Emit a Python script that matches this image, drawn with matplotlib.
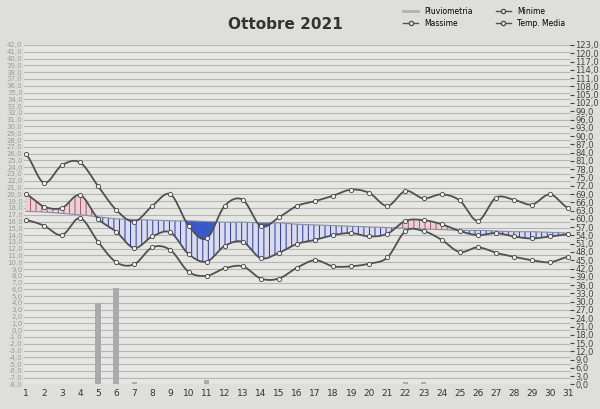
import numpy as np
import matplotlib
matplotlib.use("Agg")
import matplotlib.pyplot as plt
from matplotlib.lines import Line2D

days = list(range(1, 32))
t_max = [25.9,21.7,24.3,24.7,21.2,17.7,16.0,18.3,20.0,15.4,13.5,18.3,19.2,15.3,16.6,18.3,
         19.0,19.8,20.7,20.2,18.3,20.5,19.4,20.0,19.1,16.1,19.5,19.2,18.5,20.0,18.0]
t_med = [20.0,18.2,18.0,19.9,16.4,14.5,12.1,13.8,14.4,11.2,10.1,12.4,13.0,10.6,11.4,12.7,
         13.3,14.0,14.3,13.8,14.2,16.1,16.2,15.6,14.6,14.0,14.3,13.8,13.5,13.8,14.1]
t_min = [16.2,15.4,14.0,16.5,13.0,10.0,9.7,12.2,11.8,8.6,8.0,9.1,9.4,7.6,7.6,9.2,
         10.3,9.4,9.4,9.8,10.7,14.6,14.6,13.3,11.5,12.2,11.4,10.8,10.3,10.0,10.8]
t_norm = [17.5,17.4,17.2,17.0,16.7,16.4,16.3,16.2,16.1,16.1,16.0,15.9,15.9,15.8,15.8,15.6,
          15.5,15.4,15.3,15.2,15.1,15.0,14.9,14.8,14.7,14.7,14.6,14.5,14.5,14.4,14.3]
rain = [0,0,0,0,29.5,34.9,0.8,0,0,0,1.5,0,0,0,0,0,0,0,0,0,0,0.8,0.8,0,0,0,0,0,0,0,0]

def smooth(x, y, n=12):
    x = np.asarray(x, float); y = np.asarray(y, float)
    xs, ys = [], []
    p = np.concatenate([[y[0]], y, [y[-1]]])
    for i in range(len(x) - 1):
        t = np.linspace(0, 1, n, endpoint=False)
        p0, p1, p2, p3 = p[i], p[i+1], p[i+2], p[i+3]
        ys.append(0.5*((2*p1) + (-p0+p2)*t + (2*p0-5*p1+4*p2-p3)*t**2 + (-p0+3*p1-3*p2+p3)*t**3))
        xs.append(x[i] + t*(x[i+1]-x[i]))
    xs.append([x[-1]]); ys.append([y[-1]])
    return np.concatenate(xs), np.concatenate(ys)

plt.rcParams['hatch.linewidth'] = 0.7
fig = plt.figure(figsize=(6.0, 4.09), dpi=100, facecolor='#dededa')
ax = fig.add_axes([0.04, 0.06, 0.91, 0.83], facecolor='#e6e6e2')
ax2 = ax.twinx()

xs, smax = smooth(days, t_max)
_, smed = smooth(days, t_med)
_, smin = smooth(days, t_min)
_, snorm = smooth(days, t_norm)

ax.fill_between(xs, smed, snorm, where=smed >= snorm, interpolate=True,
                facecolor='#ecd0d4', edgecolor='#a05868', hatch='|||', linewidth=0)
ax.fill_between(xs, smed, snorm, where=smed < snorm, interpolate=True,
                facecolor='#dadcee', edgecolor='#28389a', hatch='|||', linewidth=0)
ax.fill_between(xs, smax, snorm, where=smax < snorm, interpolate=True,
                facecolor='#3a58c8', linewidth=0)
ax.plot(xs, snorm, color='#8090b0', lw=0.8)

for s, d in [(smax, t_max), (smin, t_min), (smed, t_med)]:
    ax.plot(xs, s, color='#505050', lw=1.3)
    ax.plot(days, d, 'o', ms=3, mfc='white', mec='#505050', mew=0.7)

ax2.bar(days, rain, width=0.3, color='#aaaaaa')

ax.set_ylim(-8, 42)
ax2.set_ylim(0, 123)
ax.set_xlim(0.9, 31.1)
ax.set_yticks(np.arange(-8, 42.1, 1))
ax.set_yticklabels([f"{v:.1f}".replace('.', ',') for v in np.arange(-8, 42.1, 1)])
ax2.set_yticks(np.arange(0, 123.1, 3))
ax2.set_yticklabels([f"{v:.1f}".replace('.', ',') for v in np.arange(0, 123.1, 3)])
ax.set_xticks(days)
ax.tick_params(axis='y', labelsize=5, colors='#999999', length=0, pad=1)
ax2.tick_params(axis='y', labelsize=6, colors='#444444', length=3, pad=1)
ax.tick_params(axis='x', labelsize=6.5, colors='#333333', length=0)
ax.grid(axis='y', color='#b4b4b4', lw=0.8)
ax.set_axisbelow(True)
for a in (ax, ax2):
    for sp in a.spines.values():
        sp.set_visible(False)

fig.text(0.475, 0.94, 'Ottobre 2021', ha='center', va='center', fontsize=11,
         fontweight='bold', color='#333333')
handles = [Line2D([], [], color='#b0b0b0', lw=2),
           Line2D([], [], color='#505050', lw=1, marker='o', ms=3, mfc='white'),
           Line2D([], [], color='#505050', lw=1, marker='o', ms=3, mfc='white'),
           Line2D([], [], color='#505050', lw=1, marker='o', ms=3, mfc='white')]
fig.legend(handles, ['Pluviometria', 'Massime', 'Minime', 'Temp. Media'], ncol=2,
           loc='upper left', bbox_to_anchor=(0.66, 1.0), frameon=False, fontsize=5.5,
           handlelength=2, columnspacing=3, labelspacing=0.4)
fig.savefig('out.png', dpi=100, facecolor=fig.get_facecolor())
